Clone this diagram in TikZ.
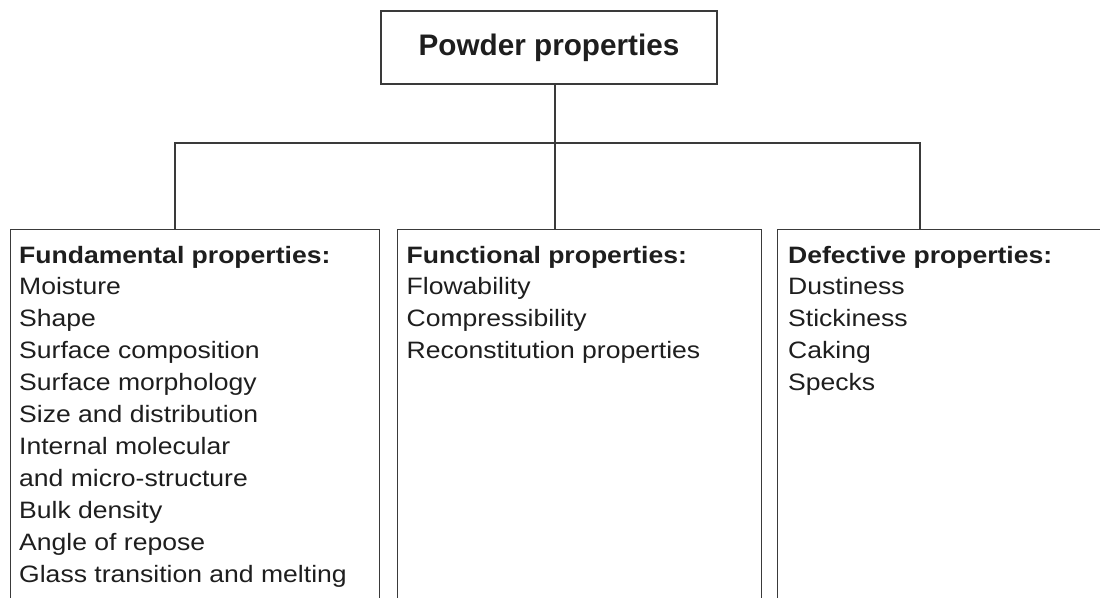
\documentclass[tikz,border=0pt]{standalone}
\usepackage{fontspec}
\setmainfont{Liberation Sans}
\newfontfamily\catfont{Liberation Sans}[FakeStretch=1.12]
\usetikzlibrary{positioning}
\definecolor{lineg}{HTML}{3A3A3A}
\definecolor{inkg}{HTML}{1E1E1E}
\tikzset{
  rootbox/.style={draw=lineg,line width=1.3pt,minimum width=336pt,minimum height=73pt,
    inner sep=0pt,text=inkg,font=\bfseries\fontsize{29.7}{33}\selectfont},
  catbox/.style={draw=lineg,line width=1.3pt,anchor=north west,minimum height=420pt,inner sep=0pt},
  cattext/.style={anchor=north west,inner sep=0pt,align=left,text=inkg,
    font=\catfont\fontsize{23.7}{31.9}\selectfont},
  wire/.style={draw=lineg,line width=1.3pt}
}
\begin{document}
\begin{tikzpicture}[x=1pt,y=-1pt]
        \useasboundingbox (0,0) rectangle (1100,597);
        \clip (0,0) rectangle (1100,597);
        %% root
        \node[rootbox] (powder) at (549,47.5) {Powder properties};
        %% category boxes
        \node[catbox,minimum width=369.5pt] (fund) at (9.5,229) {};
        \node[catbox,minimum width=364.3pt] (func) at (396.7,229) {};
        \node[catbox,minimum width=400pt] (defe) at (776.7,229) {};
        %% category texts
        \node[cattext] (fundtext) at (19,245.7) {\textbf{Fundamental properties:}\\Moisture\\Shape\\Surface composition\\Surface morphology\\Size and distribution\\Internal molecular\\and micro-structure\\Bulk density\\Angle of repose\\Glass transition and melting};
        \node[cattext] (functext) at (406.5,245.7) {\textbf{Functional properties:}\\Flowability\\Compressibility\\Reconstitution properties};
        \node[cattext] (defetext) at (788,245.7) {\textbf{Defective properties:}\\Dustiness\\Stickiness\\Caking\\Specks};
        %% connectors
        \coordinate (busL) at (175,143);
        \coordinate (busM) at (555,143);
        \coordinate (busR) at (920,143);
        \draw[wire] (busM |- powder.south) -- (busM |- func.north);
        \draw[wire] (busL |- fund.north) -- (busL) -- (busR) -- (busR |- defe.north);
    \end{tikzpicture}
\end{document}
